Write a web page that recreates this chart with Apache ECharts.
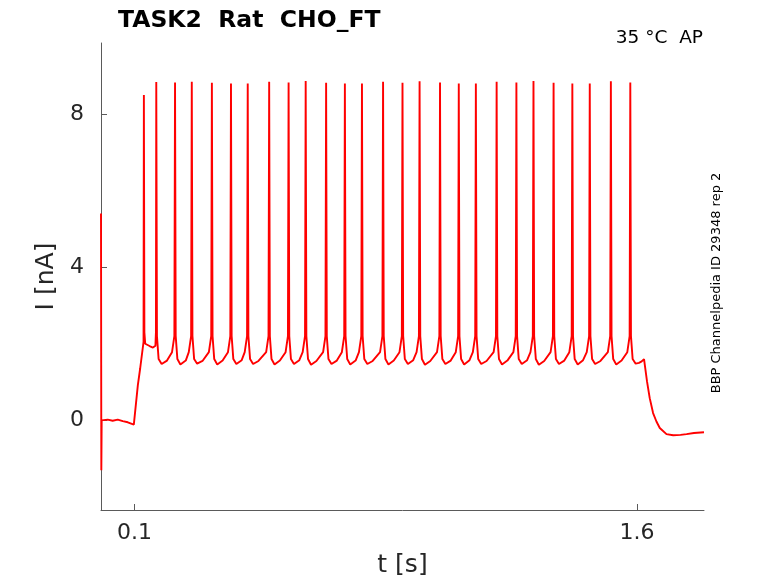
<!DOCTYPE html>
<html>
<head>
<meta charset="utf-8">
<title>TASK2 Rat CHO_FT</title>
<script src="https://cdn.jsdelivr.net/npm/echarts@6/dist/echarts.min.js"></script>
<style>
  html, body { margin: 0; padding: 0; background: #fff; }
  #chart { width: 778px; height: 583px; }
</style>
</head>
<body>
<div id="chart"></div>
<script>
// tick positions
const xTicks = [0.1, 1.6]
const yTicks = [0, 4, 8]

// holding period + step onset, [t (s), I (nA)]
const onsetTrace = [
  [0.000, 5.40], [0.001, -1.30], [0.002, 0.00],
  [0.020, 0.02], [0.035, -0.01], [0.050, 0.02], [0.065, -0.02], [0.080, -0.05], [0.098, -0.11],
  [0.101, -0.12], [0.110, 0.92], [0.117, 1.36], [0.127, 2.05],
  [0.128, 8.49], [0.1295, 2.30], [0.132, 2.00], [0.145, 1.94], [0.155, 1.90], [0.1625, 1.95], [0.164, 2.30],
  [0.165, 8.83]
]

// spike train during the step
const spikeTrace = [
  [0.167, 2.2], [0.172, 1.6], [0.181, 1.47], [0.197, 1.56], [0.212, 1.78], [0.219, 2.2], [0.221, 8.82],
  [0.223, 2.2], [0.228, 1.6], [0.237, 1.46], [0.253, 1.56], [0.262, 1.78], [0.269, 2.2], [0.271, 8.84],
  [0.273, 2.2], [0.278, 1.6], [0.287, 1.48], [0.303, 1.55], [0.322, 1.78], [0.329, 2.2], [0.331, 8.81],
  [0.333, 2.2], [0.338, 1.6], [0.347, 1.46], [0.363, 1.56], [0.379, 1.78], [0.386, 2.2], [0.388, 8.79],
  [0.390, 2.2], [0.395, 1.6], [0.404, 1.47], [0.420, 1.57], [0.429, 1.78], [0.436, 2.2], [0.438, 8.79],
  [0.440, 2.2], [0.445, 1.6], [0.454, 1.47], [0.470, 1.55], [0.493, 1.78], [0.500, 2.2], [0.502, 8.84],
  [0.504, 2.2], [0.509, 1.6], [0.518, 1.46], [0.534, 1.56], [0.551, 1.78], [0.558, 2.2], [0.560, 8.82],
  [0.562, 2.2], [0.567, 1.6], [0.576, 1.47], [0.592, 1.57], [0.602, 1.78], [0.609, 2.2], [0.611, 8.86],
  [0.613, 2.2], [0.618, 1.6], [0.627, 1.45], [0.643, 1.55], [0.663, 1.78], [0.670, 2.2], [0.672, 8.81],
  [0.674, 2.2], [0.679, 1.6], [0.688, 1.47], [0.704, 1.56], [0.719, 1.78], [0.726, 2.2], [0.728, 8.79],
  [0.730, 2.2], [0.735, 1.6], [0.744, 1.46], [0.760, 1.56], [0.770, 1.78], [0.777, 2.2], [0.779, 8.79],
  [0.781, 2.2], [0.786, 1.6], [0.795, 1.47], [0.811, 1.55], [0.833, 1.78], [0.840, 2.2], [0.842, 8.84],
  [0.844, 2.2], [0.849, 1.6], [0.858, 1.46], [0.874, 1.56], [0.891, 1.78], [0.898, 2.2], [0.900, 8.81],
  [0.902, 2.2], [0.907, 1.6], [0.916, 1.47], [0.932, 1.57], [0.942, 1.78], [0.949, 2.2], [0.951, 8.85],
  [0.953, 2.2], [0.958, 1.6], [0.967, 1.45], [0.983, 1.55], [1.003, 1.78], [1.010, 2.2], [1.012, 8.82],
  [1.014, 2.2], [1.019, 1.6], [1.028, 1.47], [1.044, 1.56], [1.059, 1.78], [1.066, 2.2], [1.068, 8.79],
  [1.070, 2.2], [1.075, 1.6], [1.084, 1.46], [1.100, 1.57], [1.110, 1.78], [1.117, 2.2], [1.119, 8.79],
  [1.121, 2.2], [1.126, 1.6], [1.135, 1.47], [1.151, 1.55], [1.172, 1.78], [1.179, 2.2], [1.181, 8.84],
  [1.183, 2.2], [1.188, 1.6], [1.197, 1.46], [1.213, 1.56], [1.231, 1.78], [1.238, 2.2], [1.240, 8.82],
  [1.242, 2.2], [1.247, 1.6], [1.256, 1.47], [1.272, 1.57], [1.282, 1.78], [1.289, 2.2], [1.291, 8.86],
  [1.293, 2.2], [1.298, 1.6], [1.307, 1.45], [1.323, 1.55], [1.342, 1.78], [1.349, 2.2], [1.351, 8.81],
  [1.353, 2.2], [1.358, 1.6], [1.367, 1.47], [1.383, 1.56], [1.398, 1.78], [1.405, 2.2], [1.407, 8.79],
  [1.409, 2.2], [1.414, 1.6], [1.423, 1.46], [1.439, 1.57], [1.450, 1.78], [1.457, 2.2], [1.459, 8.79],
  [1.461, 2.2], [1.466, 1.6], [1.475, 1.47], [1.491, 1.55], [1.513, 1.78], [1.520, 2.2], [1.522, 8.85],
  [1.524, 2.2], [1.529, 1.6], [1.538, 1.46], [1.554, 1.56], [1.571, 1.78], [1.578, 2.2], [1.580, 8.82]
]

// end of step and tail current
const offsetTrace = [
  [1.582, 2.2], [1.587, 1.6], [1.596, 1.48], [1.606, 1.50], [1.614, 1.54], [1.621, 1.60],
  [1.630, 1.01], [1.638, 0.58], [1.648, 0.19], [1.658, -0.03], [1.668, -0.20], [1.688, -0.36],
  [1.708, -0.39], [1.730, -0.38], [1.748, -0.36], [1.770, -0.33], [1.800, -0.31]
]

const trace = onsetTrace.concat(spikeTrace, offsetTrace)

const FONT = 'DejaVu Sans'
const AXIS_COLOR = '#5a5a5a'
const TEXT_COLOR = '#262626'

const chart = echarts.init(document.getElementById('chart'), null, { renderer: 'canvas' })

chart.setOption({
  animation: false,
  backgroundColor: '#fff',
  textStyle: { fontFamily: FONT },
  title: {
    text: 'TASK2  Rat  CHO_FT',
    left: 113,
    top: 4,
    textStyle: { fontFamily: FONT, fontWeight: 'bold', fontSize: 23.5, color: '#000' }
  },
  grid: { left: 101, top: 43, right: 74, bottom: 71, containLabel: false },
  xAxis: {
    type: 'value',
    min: 0,
    max: 1.8,
    name: 't [s]',
    nameLocation: 'middle',
    nameGap: 43,
    nameTextStyle: { fontFamily: FONT, fontSize: 25, color: TEXT_COLOR },
    axisLine: { onZero: false, lineStyle: { color: AXIS_COLOR, width: 1 } },
    axisTick: { inside: true, length: 6, customValues: xTicks, lineStyle: { color: AXIS_COLOR } },
    axisLabel: { customValues: xTicks, fontSize: 22, color: TEXT_COLOR, margin: 12, fontFamily: FONT },
    splitLine: { show: false }
  },
  yAxis: {
    type: 'value',
    min: -2.34,
    max: 9.85,
    name: 'I [nA]',
    nameLocation: 'middle',
    nameGap: 39,
    nameTextStyle: { fontFamily: FONT, fontSize: 25, color: TEXT_COLOR },
    axisLine: { show: true, onZero: false, lineStyle: { color: AXIS_COLOR, width: 1 } },
    axisTick: { show: true, inside: true, length: 6, customValues: yTicks, lineStyle: { color: AXIS_COLOR } },
    axisLabel: { customValues: yTicks, fontSize: 22, color: TEXT_COLOR, margin: 17, fontFamily: FONT },
    splitLine: { show: false }
  },
  graphic: [
    {
      type: 'text',
      right: 75,
      top: 29,
      style: { text: '35 °C  AP', font: '18.5px "DejaVu Sans"', fill: '#000' }
    },
    {
      type: 'text',
      x: 717,
      y: 283,
      rotation: Math.PI / 2,
      style: {
        text: 'BBP Channelpedia ID 29348 rep 2',
        font: '13px "DejaVu Sans"',
        fill: '#000',
        align: 'center',
        verticalAlign: 'middle'
      }
    }
  ],
  series: [
    {
      type: 'line',
      data: trace,
      showSymbol: false,
      symbol: 'none',
      sampling: null,
      clip: true,
      lineStyle: { color: '#ff0000', width: 1.9 },
      emphasis: { disabled: true }
    }
  ]
})
</script>
</body>
</html>
